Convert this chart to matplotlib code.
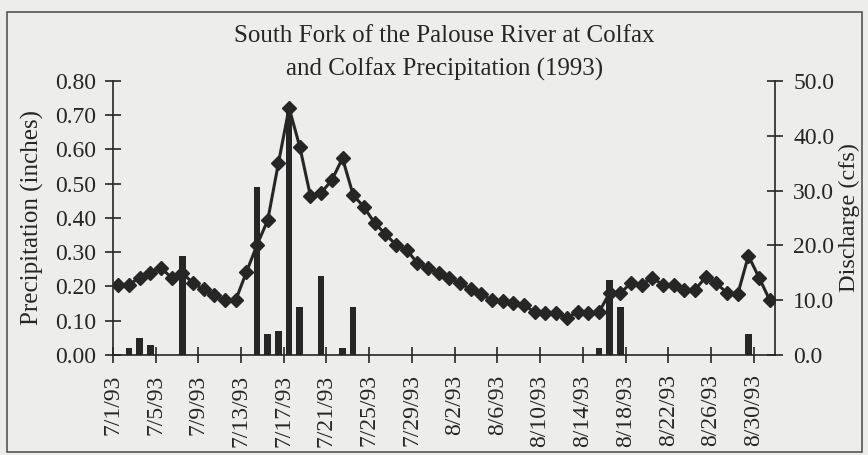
import numpy as np
import pandas as pd
import matplotlib
import matplotlib.pyplot as plt
from matplotlib.patches import Rectangle
from matplotlib.ticker import FormatStrFormatter
matplotlib.use('Agg')

# daily values, 7/1/93 .. 8/31/93
dates = pd.date_range('1993-07-01', '1993-08-31', freq='D')
precip = [0.00, 0.02, 0.05, 0.03, 0.00, 0.00, 0.29, 0.00, 0.00, 0.00,
          0.00, 0.00, 0.00, 0.49, 0.06, 0.07, 0.72, 0.14, 0.00, 0.23,
          0.00, 0.02, 0.14, 0.00, 0.00, 0.00, 0.00, 0.00, 0.00, 0.00,
          0.00, 0.00, 0.00, 0.00, 0.00, 0.00, 0.00, 0.00, 0.00, 0.00,
          0.00, 0.00, 0.00, 0.00, 0.00, 0.02, 0.22, 0.14, 0.00, 0.00,
          0.00, 0.00, 0.00, 0.00, 0.00, 0.00, 0.00, 0.00, 0.00, 0.06,
          0.00, 0.00]
discharge = [12.8, 12.8, 14.1, 15.0, 15.9, 14.1, 15.0, 13.1, 12.0, 10.9,
             10.0, 10.0, 15.1, 20.1, 24.6, 35.0, 45.1, 38.0, 29.0, 29.6,
             31.9, 35.9, 29.2, 27.0, 24.1, 22.1, 20.1, 19.2, 16.8, 15.9,
             15.0, 14.1, 13.1, 12.0, 11.1, 10.0, 9.9, 9.5, 9.1, 7.8,
             7.7, 7.7, 6.8, 7.8, 7.7, 7.8, 11.3, 11.3, 13.1, 12.8,
             14.1, 12.8, 12.8, 11.9, 11.9, 14.2, 13.1, 11.3, 11.1, 18.1,
             14.1, 10.0]
tick_labels = ['7/1/93', '7/5/93', '7/9/93', '7/13/93', '7/17/93', '7/21/93',
               '7/25/93', '7/29/93', '8/2/93', '8/6/93', '8/10/93', '8/14/93',
               '8/18/93', '8/22/93', '8/26/93', '8/30/93']

plt.rcParams['font.family'] = ['Liberation Serif', 'DejaVu Serif']
ink = '#262626'
bg = '#ededeb'

fig = plt.figure(figsize=(8.68, 4.55), dpi=100, facecolor=bg)
ax = fig.add_axes([0.130, 0.2198, 0.763, 0.6022])
ax.set_facecolor(bg)
ax2 = ax.twinx()

x = np.arange(len(dates))
ax.bar(x, precip, width=0.62, color=ink, zorder=2)
ax2.plot(x, discharge, color=ink, lw=2.2, marker='D', markersize=7.5, zorder=3)

ax.set_xlim(-0.5, len(dates) - 0.5)
ax.set_ylim(0, 0.80)
ax2.set_ylim(0, 50)
ax.set_yticks(np.arange(0, 0.81, 0.1))
ax2.set_yticks(np.arange(0, 51, 10))
ax.yaxis.set_major_formatter(FormatStrFormatter('%.2f'))
ax2.yaxis.set_major_formatter(FormatStrFormatter('%.1f'))

ax.set_xticks(np.arange(0, len(dates), 4) - 0.5)
ax.set_xticklabels(tick_labels, rotation=90)

for a in (ax, ax2):
    a.spines['top'].set_visible(False)
    for s in a.spines.values():
        s.set_color(ink)
        s.set_linewidth(1.2)
ax.spines['right'].set_visible(False)
ax2.spines['left'].set_visible(False)
ax2.spines['bottom'].set_visible(False)

ax.tick_params(axis='y', direction='inout', length=12, width=1.2, pad=6,
               labelsize=17, colors=ink)
ax.tick_params(axis='x', direction='inout', length=12, width=1.2, pad=8,
               labelsize=17, colors=ink)
ax2.tick_params(axis='y', direction='inout', length=12, width=1.2, pad=7,
                labelsize=17, colors=ink)

ax.set_ylabel('Precipitation (inches)', fontsize=18, color=ink, labelpad=8)
ax2.set_ylabel('Discharge (cfs)', fontsize=17.5, color=ink, labelpad=3)

fig.text(0.512, 0.920, 'South Fork of the Palouse River at Colfax',
         ha='center', va='center', fontsize=18, color=ink)
fig.text(0.512, 0.847, 'and Colfax Precipitation (1993)',
         ha='center', va='center', fontsize=18, color=ink)

fig.patches.append(Rectangle((7 / 868, 3 / 455), 855 / 868, 440 / 455,
                             transform=fig.transFigure, fill=False,
                             edgecolor='#555555', lw=1.2))

fig.savefig('out.png', dpi=100, facecolor=bg)
